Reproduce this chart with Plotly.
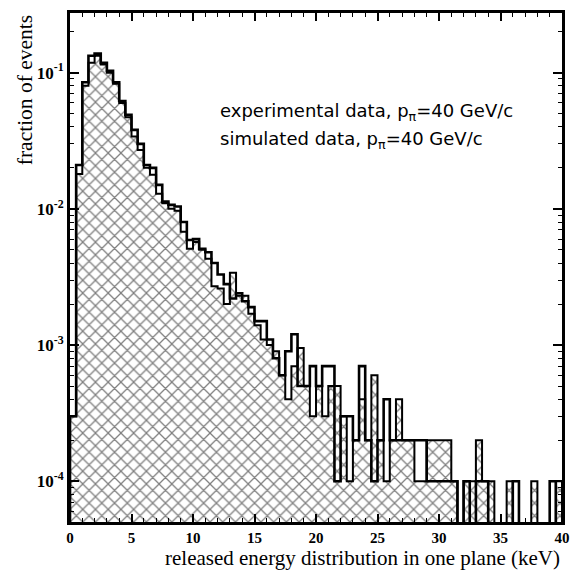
import plotly.graph_objects as go

# ---- data (0.5 keV bins from 0 to 40 keV) ----
bin_width = 0.5
bin_left = [i * bin_width for i in range(80)]

experimental = [
    3e-4, 0.021, 0.085, 0.133, 0.138, 0.118, 0.103, 0.085, 0.062, 0.049,
    0.038, 0.030, 0.021, 0.020, 0.015, 0.0113, 0.0107, 0.0104, 0.0080, 0.0059,
    0.0060, 0.0051, 0.0048, 0.0040, 0.0033, 0.0028, 0.0022, 0.0024, 0.0021, 0.0019,
    0.0015, 0.0015, 0.0011, 0.0008, 0.0006, 0.0009, 0.0012, 0.0005, 0.0005, 0.0007,
    0.0005, 0.0007, 0.0007, 0.0001, 0.0003, 0.0003, 0.0002, 0.0007, 0.0002, 0.0001,
    0.0002, 0.0004, 0.0002, 0.0002, 0.0002, 0.0002, 0.0002, 0.0002, 0.0001, 0.0001,
    0.0001, 0.0001, 0.0001, 0, 0.0001, 0, 0.0001, 0.0001, 0, 0,
    0, 0, 0.0001, 0, 0, 0, 0, 0, 0.0001, 0,
]

simulated = [
    3e-4, 0.018, 0.080, 0.118, 0.133, 0.115, 0.100, 0.083, 0.060, 0.047,
    0.034, 0.027, 0.020, 0.0178, 0.0129, 0.0110, 0.0100, 0.0097, 0.0068, 0.0051,
    0.0057, 0.0050, 0.0043, 0.0027, 0.0026, 0.0020, 0.0034, 0.0023, 0.0023, 0.0017,
    0.0014, 0.0011, 0.0010, 0.0009, 0.0006, 0.0004, 0.0007, 0.00095, 0.0005, 0.0003,
    0.0005, 0.0003, 0.0005, 0.0005, 0.0003, 0.0001, 0.0002, 0.0004, 0.0002, 0.0006,
    0.0002, 0.0001, 0.0002, 0.0004, 0.0002, 0.0002, 0.0001, 0.0001, 0.0002, 0.0002,
    0.0002, 0.0002, 0.0001, 0, 0.0001, 0.0001, 0.0002, 0.0001, 0.0001, 0,
    0, 0.0001, 0, 0, 0, 0.0001, 0, 0, 0, 0.0001,
]

x_tick_vals = [0, 5, 10, 15, 20, 25, 30, 35, 40]
x_tick_text = ["0", "5", "10", "15", "20", "25", "30", "35", "40"]
y_tick_vals = [1e-4, 1e-3, 1e-2, 1e-1]
y_tick_text = ["10<sup>-4</sup>", "10<sup>-3</sup>", "10<sup>-2</sup>", "10<sup>-1</sup>"]
y_minor_vals = [m * 10.0 ** e for e in range(-5, 0) for m in range(2, 10)]

legend_lines = ["experimental data, p<sub>π</sub>=40 GeV/c",
                "simulated data, p<sub>π</sub>=40 GeV/c"]
x_title = "released energy distribution in one plane (keV)"
y_title = "fraction of events"

FLOOR = 1e-9  # empty bins drop below the axis


def step_xy(values):
    xs = [bin_left[0]]
    ys = [FLOOR]
    for xl, v in zip(bin_left, values):
        xs.append(xl)
        ys.append(v if v > 0 else FLOOR)
    xs.append(bin_left[-1] + bin_width)
    ys.append(values[-1] if values[-1] > 0 else FLOOR)
    xs.append(bin_left[-1] + bin_width)
    ys.append(FLOOR)
    return xs, ys


centers = [xl + bin_width / 2 for xl in bin_left]
sim_bar = [v if v > 0 else None for v in simulated]

fig = go.Figure()
fig.add_trace(go.Bar(
    x=centers, y=sim_bar, width=bin_width,
    marker=dict(color="white",
                line=dict(width=0),
                pattern=dict(shape="x", fgcolor="black", bgcolor="white",
                             size=9, solidity=0.26)),
    showlegend=False, hoverinfo="skip",
))
sx, sy = step_xy(simulated)
fig.add_trace(go.Scatter(x=sx, y=sy, mode="lines", line_shape="hv",
                         line=dict(color="black", width=2), showlegend=False))
ex, ey = step_xy(experimental)
fig.add_trace(go.Scatter(x=ex, y=ey, mode="lines", line_shape="hv",
                         line=dict(color="black", width=2.6), showlegend=False))

fig.update_layout(
    width=580, height=574,
    margin=dict(l=70, r=11, t=10, b=52),
    paper_bgcolor="white", plot_bgcolor="white",
    barmode="overlay", bargap=0,
    showlegend=False,
    font=dict(family="Liberation Serif", color="black"),
)
fig.update_xaxes(
    range=[0, 40], showgrid=False, zeroline=False,
    showline=True, linecolor="black", linewidth=2.8, mirror="allticks",
    ticks="inside", ticklen=8, tickwidth=1.5, tickcolor="black",
    tickvals=x_tick_vals, ticktext=x_tick_text,
    tickfont=dict(family="Liberation Serif", size=15, color="black", weight="bold"),
    minor=dict(dtick=1, ticks="inside", ticklen=4, tickwidth=1, tickcolor="black"),
)
fig.update_yaxes(
    type="log", range=[-4.299, -0.562], showgrid=False, zeroline=False,
    showline=True, linecolor="black", linewidth=2.8, mirror="allticks",
    ticks="inside", ticklen=9, tickwidth=1.5, tickcolor="black",
    tickvals=y_tick_vals, ticktext=y_tick_text,
    tickfont=dict(family="Liberation Serif", size=17, color="black", weight="bold"),
    minor=dict(tickmode="array", tickvals=y_minor_vals, ticks="inside",
               ticklen=4, tickwidth=1, tickcolor="black"),
)

fig.add_annotation(text=x_title, xref="paper", yref="paper", x=0.999, y=-0.0703,
                   xanchor="right", yanchor="middle", showarrow=False,
                   font=dict(family="Liberation Serif", size=21, color="black"))
fig.add_annotation(text=y_title, xref="paper", yref="paper", x=-0.091, y=1.0,
                   xanchor="center", yanchor="top", textangle=-90, showarrow=False,
                   font=dict(family="Liberation Serif", size=21.5, color="black"))
for line, ypx in zip(legend_lines, [110, 138]):
    fig.add_annotation(text=line, xref="paper", yref="paper",
                       x=(220 - 70) / 499, y=(522 - ypx) / 512,
                       xanchor="left", yanchor="middle", showarrow=False,
                       font=dict(family="DejaVu Sans", size=18, color="black"))

fig.write_html("out.html")
